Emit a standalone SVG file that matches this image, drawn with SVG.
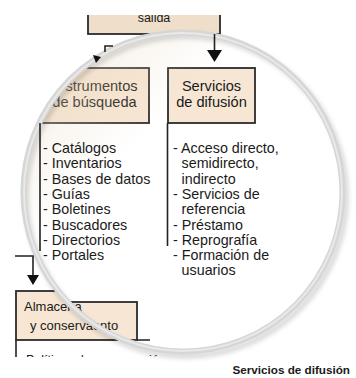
<svg xmlns="http://www.w3.org/2000/svg" width="356" height="378" viewBox="0 0 356 378">
<style>
.box{fill:#f6e6d3;stroke:#2b2b2b;stroke-width:1.8}
.ln{fill:none;stroke:#222;stroke-width:1.6}
.ah{fill:#111}
.t{font-family:"Liberation Sans",Arial,sans-serif;fill:#1a1a1a}
.ttl{font-size:14.6px;text-anchor:middle}
.li{font-size:14.3px}
</style>
<defs>
<clipPath id="top"><rect x="0" y="15" width="356" height="363"/></clipPath>
<clipPath id="bot"><rect x="0" y="0" width="356" height="357"/></clipPath>
<clipPath id="lens"><circle cx="183" cy="192" r="157"/></clipPath>
<filter id="blur" x="-20%" y="-20%" width="140%" height="140%"><feGaussianBlur stdDeviation="2"/></filter>
<linearGradient id="sheen" x1="0" y1="0" x2="1" y2="1">
<stop offset="0" stop-color="#ead8bf" stop-opacity="0.55"/>
<stop offset="0.35" stop-color="#ead8bf" stop-opacity="0"/>
</linearGradient>
</defs>
<rect width="356" height="378" fill="#fff"/>
<!-- outside (unmagnified) content -->
<g id="salida" clip-path="url(#top)">
<rect class="box" x="88" y="5" width="132" height="29" style="fill:#efdfca"/>
<text class="t" x="154" y="21.5" font-size="12.5" text-anchor="middle">salida</text>
</g>
<g id="almacenamiento">
<rect class="box" x="16" y="291" width="200" height="49"/>
<g clip-path="url(#bot)">
<path class="ln" d="M16,340 V362"/>
<text class="t" x="26" y="364" font-size="12.5">Políticas de preservación</text>
</g>
</g>
<!-- lens interior -->
<circle cx="183" cy="192" r="157" fill="#fff"/>
<g clip-path="url(#lens)">
<g id="instrumentos">
<rect class="box" x="0" y="68" width="149" height="55"/>
<path class="ln" d="M57,93 V83 H62"/>
<text class="t ttl" x="101.5" y="91">strumentos</text>
<text class="t ttl" x="94.5" y="107">de búsqueda</text>
</g>
<g id="servicios">
<rect class="box" x="168" y="68" width="87" height="55"/>
<text class="t ttl" x="211.5" y="91">Servicios</text>
<text class="t ttl" x="211.5" y="107">de difusión</text>
</g>
<rect class="box" x="0" y="302" width="137" height="38"/>
<path class="ln" d="M137,340 H150"/>
<circle cx="183" cy="192" r="157" fill="url(#sheen)"/>
</g>
<g id="lista-instrumentos" class="t li">
<text x="43" y="153">- Catálogos</text>
<text x="43" y="168.3">- Inventarios</text>
<text x="43" y="183.6">- Bases de datos</text>
<text x="43" y="198.9">- Guías</text>
<text x="43" y="214.2">- Boletines</text>
<text x="43" y="229.5">- Buscadores</text>
<text x="43" y="244.8">- Directorios</text>
<text x="43" y="260.1">- Portales</text>
</g>
<g id="lista-servicios" class="t li">
<text x="173" y="153">- Acceso directo,</text>
<text x="181.6" y="168.3">semidirecto,</text>
<text x="181.6" y="183.6">indirecto</text>
<text x="173" y="198.9">- Servicios de</text>
<text x="181.6" y="214.2">referencia</text>
<text x="173" y="229.5">- Préstamo</text>
<text x="173" y="244.8">- Reprografía</text>
<text x="173" y="260.1">- Formación de</text>
<text x="181.6" y="275.4">usuarios</text>
</g>
<g id="almacena-texto" class="t" font-size="13">
<text x="24" y="311">Almacena</text>
<text x="30" y="330">y conservaento</text>
</g>
<!-- lens ring -->
<g id="lupa">
<circle cx="186" cy="196" r="160" fill="none" stroke="#000" stroke-opacity="0.14" stroke-width="6" filter="url(#blur)"/>
<circle cx="183" cy="192" r="159.5" fill="none" stroke="#d6d6d6" stroke-width="6"/>
<circle cx="183" cy="192" r="159" fill="none" stroke="#e9e9e9" stroke-width="2"/>
</g>
<g id="connectors">
<path class="ln" d="M214.5,34 V51"/>
<polygon class="ah" points="207,50 222,50 214.5,62"/>
<path class="ln" d="M113,46 H105 V52"/>
<polygon class="ah" points="93,55 101,57 96,63"/>
<path class="ln" d="M15,256 H33 V276"/>
<polygon class="ah" points="27,275 39,275 33,285"/>
<path class="ln" d="M40,123 V251"/>
<path class="ln" d="M167.5,123 V246"/>
</g>
<text class="t" x="350" y="374" font-size="11.7" font-weight="bold" text-anchor="end">Servicios de difusión</text>
</svg>
